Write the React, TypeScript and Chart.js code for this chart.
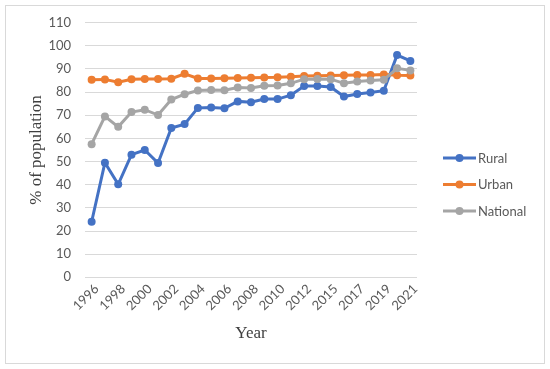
import React, { useEffect, useRef } from "react";
import { Chart, registerables } from "chart.js";

Chart.register(...registerables);

const years = [
  "1996", "1997", "1998", "1999", "2000", "2001", "2002", "2003", "2004", "2005",
  "2006", "2007", "2008", "2009", "2010", "2011", "2012", "2014", "2015", "2016",
  "2017", "2018", "2019", "2020", "2021",
];
const rural = [
  24.0, 49.5, 40.2, 53.0, 55.0, 49.4, 64.5, 66.2, 73.2, 73.4,
  73.0, 76.0, 75.6, 77.0, 77.0, 78.7, 82.6, 82.6, 82.2, 78.1,
  79.2, 79.8, 80.6, 96.0, 93.5,
];
const urban = [
  85.3, 85.5, 84.3, 85.6, 85.7, 85.7, 85.8, 87.9, 85.9, 85.9,
  86.0, 86.1, 86.2, 86.3, 86.4, 86.7, 87.0, 87.1, 87.2, 87.3,
  87.4, 87.4, 87.6, 87.3, 87.2,
];
const national = [
  57.5, 69.5, 65.0, 71.4, 72.4, 70.1, 76.8, 79.1, 80.7, 80.9,
  80.8, 82.0, 81.8, 82.8, 82.9, 83.8, 85.6, 85.7, 85.6, 83.8,
  84.6, 85.0, 85.3, 90.3, 89.4,
];
const seriesNames = ["Rural", "Urban", "National"];
const seriesColors = ["#4472C4", "#ED7D31", "#A5A5A5"];
const yTicks = { min: 0, max: 110, step: 10 };

const TICK_FONT = "Lato, 'Open Sans', sans-serif";
const TITLE_FONT = "'Liberation Serif', 'Times New Roman', serif";

const framePlugin = {
  id: "frameAndLegend",
  beforeDraw(chart: any) {
    const ctx = chart.ctx;
    ctx.save();
    ctx.fillStyle = "#ffffff";
    ctx.fillRect(0, 0, chart.width, chart.height);
    ctx.strokeStyle = "#d9d9d9";
    ctx.lineWidth = 1;
    ctx.strokeRect(5.5, 5.5, chart.width - 11, chart.height - 11);
    ctx.restore();
  },
  afterDraw(chart: any) {
    const ctx = chart.ctx;
    ctx.save();
    const ds = chart.data.datasets;
    const x0 = 443;
    const x1 = 476;
    const yStart = 158;
    const gap = 26.5;
    ctx.font = `13px ${TICK_FONT}`;
    ctx.textBaseline = "middle";
    ctx.textAlign = "left";
    ds.forEach((d: any, i: number) => {
      const y = yStart + i * gap;
      ctx.strokeStyle = d.borderColor;
      ctx.lineWidth = 3;
      ctx.beginPath();
      ctx.moveTo(x0, y);
      ctx.lineTo(x1, y);
      ctx.stroke();
      ctx.fillStyle = d.borderColor;
      ctx.beginPath();
      ctx.arc((x0 + x1) / 2, y, 4, 0, Math.PI * 2);
      ctx.fill();
      ctx.fillStyle = "#595959";
      ctx.fillText(d.label, x1 + 2, y + 0.5);
    });
    ctx.restore();
  },
};

export default function App() {
  const ref = useRef<HTMLCanvasElement | null>(null);
  useEffect(() => {
    document.body.style.margin = "0";
    const canvas = ref.current;
    if (!canvas) return;
    const values = [rural, urban, national];
    const chart = new Chart(canvas, {
      type: "line",
      data: {
        labels: years,
        datasets: values.map((v, i) => ({
          label: seriesNames[i],
          data: v,
          borderColor: seriesColors[i],
          backgroundColor: seriesColors[i],
          borderWidth: 3,
          pointRadius: 4,
          pointHoverRadius: 4,
          pointBorderWidth: 0,
          tension: 0,
          order: 3 - i,
        })),
      },
      options: {
        animation: false,
        responsive: false,
        maintainAspectRatio: false,
        layout: { padding: { left: 0, right: 133, top: 22.7, bottom: 0 } },
        plugins: {
          legend: { display: false },
          tooltip: { enabled: false },
        },
        scales: {
          x: {
            offset: true,
            grid: { display: false, drawTicks: false },
            border: { display: false },
            ticks: {
              autoSkip: false,
              maxRotation: 45,
              minRotation: 45,
              padding: 4,
              labelOffset: 5,
              color: "#595959",
              font: { family: TICK_FONT, size: 13 },
              callback: (_v: any, idx: number) => (idx % 2 === 0 ? years[idx] : ""),
            },
            title: {
              display: true,
              text: "Year",
              color: "#404040",
              font: { family: TITLE_FONT, size: 17 },
              padding: { top: 0, bottom: 25 },
            },
            afterFit: (s: any) => {
              s.height = 91.7;
            },
          },
          y: {
            min: yTicks.min,
            max: yTicks.max,
            grid: { color: "#d9d9d9", lineWidth: 1, drawTicks: false },
            border: { display: false },
            ticks: {
              stepSize: yTicks.step,
              padding: 14,
              color: "#595959",
              font: { family: TICK_FONT, size: 13 },
            },
            title: {
              display: true,
              text: "% of population",
              color: "#404040",
              font: { family: TITLE_FONT, size: 17 },
              padding: { top: 26, bottom: 0 },
            },
            afterFit: (s: any) => {
              s.width = 85;
            },
          },
        },
      },
      plugins: [framePlugin],
    });
    return () => chart.destroy();
  }, []);
  return <canvas ref={ref} width={550} height={369} style={{ display: "block", width: 550, height: 369 }} />;
}
